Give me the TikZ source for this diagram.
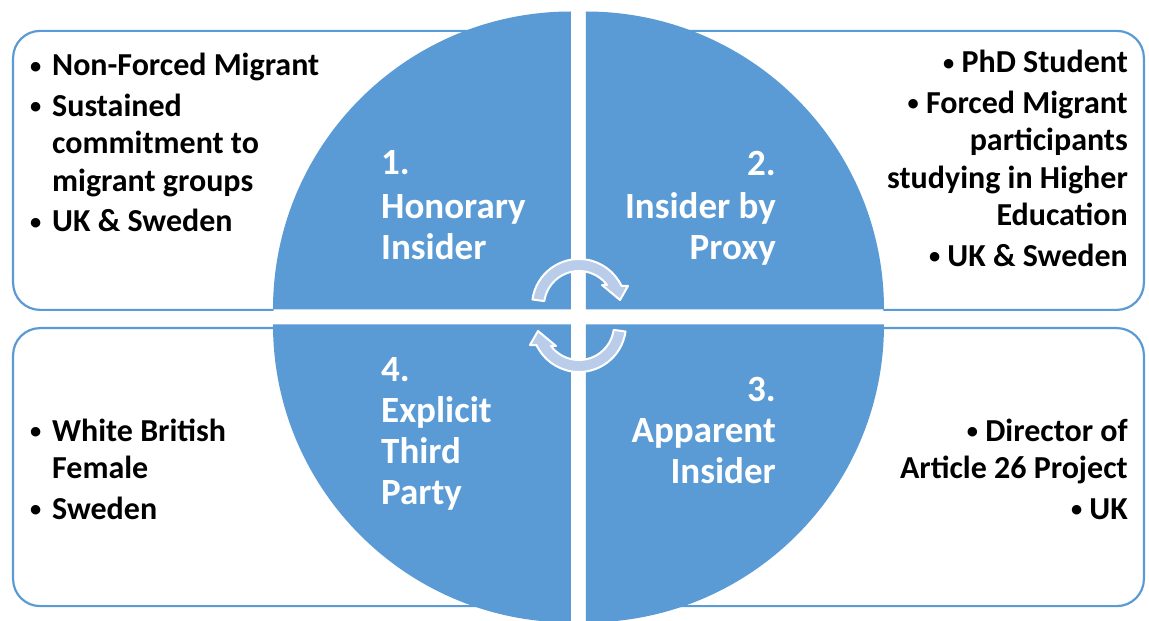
\documentclass[tikz,border=0pt]{standalone}
\usepackage{fontspec}
\setmainfont{Carlito}
\usepackage{xcolor}
\usepackage{graphicx}
\usepackage{tikz}
\usetikzlibrary{positioning, calc}

\definecolor{quadblue}{RGB}{91,155,213}
\definecolor{arrowblue}{RGB}{185,204,234}

% small bullet, and hanging indent for the side lists
\newcommand{\dotmark}{\raisebox{2.8pt}{\scalebox{0.7}{\textbullet}}}
\newcommand{\blt}{\makebox[24pt][l]{\hspace{2pt}\dotmark}}
\newcommand{\ind}{\hspace*{24pt}}

\begin{document}
\begin{tikzpicture}[
    x=1pt, y=1pt,
    infobox/.style={
        rectangle,
        rounded corners=27pt,
        draw=quadblue,
        line width=2.2pt,
        fill=white,
        inner sep=0pt
    },
    listtext/.style={
        font=\fontsize{32}{37.5}\selectfont\bfseries,
        inner sep=0pt,
        text=black
    },
    quadtext/.style={
        font=\fontsize{37}{41}\selectfont\bfseries,
        inner sep=0pt,
        text=white
    },
    quadrant/.style={fill=quadblue},
    cyclearrow/.style={fill=arrowblue, draw=white, line width=2pt, line join=round}
]

\useasboundingbox (-578.5,-304) rectangle (570.5,317);

% === SIDE BOXES ===
\node (boxTL) [infobox, anchor=south west, minimum width=536.5pt, minimum height=279pt] at (-566.5,6) {};
\node (boxTR) [infobox, anchor=south east, minimum width=536.5pt, minimum height=279pt] at (566.5,6) {};
\node (boxBL) [infobox, anchor=north west, minimum width=536.5pt, minimum height=278pt] at (-566.5,-10) {};
\node (boxBR) [infobox, anchor=north east, minimum width=536.5pt, minimum height=278pt] at (566.5,-10) {};

% === CIRCLE OF FOUR QUADRANTS ===
\fill [white] (0,0) circle [radius=305pt];
\foreach \a in {0,90,180,270}
    \fill [quadrant, rotate=\a] (7.5,7.5) -- ++(298,0) arc [start angle=0, end angle=90, radius=298pt] -- cycle;

% === CYCLE ARROWS ===
\foreach \r in {0,180}
    \filldraw [cyclearrow, shift={(0.5,1.5)}, rotate=\r]
        (0,9.5) ++(172:47pt) arc [start angle=172, end angle=25.2, radius=47pt]
        -- (49,29.5) -- (41,15.5) -- (23,30.5) -- (28,30.5)
        arc [start angle=36.9, end angle=172, radius=35pt] -- cycle;

% === QUADRANT LABELS ===
\node (honorary) [quadtext, align=left, anchor=north west] at (-197.5,166.4) {1.\\[3pt]Honorary\\Insider};
\node (proxy) [quadtext, align=right, anchor=north east] at (197.5,166.4) {2.\\[2pt]Insider by\\Proxy};
\node (apparent) [quadtext, align=right, anchor=north east] at (197.5,-59.6) {3.\\Apparent\\Insider};
\node (thirdparty) [quadtext, align=left, anchor=north west] at (-197.5,-40.6) {4.\\Explicit\\Third\\Party};

% === BOX LISTS ===
\node (listTL) [listtext, align=left, anchor=north west] at ([xshift=16pt, yshift=-23.4pt]boxTL.north west)
    {\blt Non-Forced Migrant\\[3pt]\blt Sustained\\\ind commitment to\\\ind migrant groups\\[3pt]\blt UK \& Sweden};
\node (listTR) [listtext, align=right, anchor=north east] at ([xshift=-17pt, yshift=-20.4pt]boxTR.north east)
    {\dotmark\ PhD Student\\[3pt]\dotmark\ Forced Migrant\\participants\\studying in Higher\\Education\\[3pt]\dotmark\ UK \& Sweden};
\node (listBL) [listtext, align=left, anchor=north west] at ([xshift=16pt, yshift=-91.4pt]boxBL.north west)
    {\blt White British\\\ind Female\\[3pt]\blt Sweden};
\node (listBR) [listtext, align=right, anchor=north east] at ([xshift=-17pt, yshift=-91.4pt]boxBR.north east)
    {\dotmark\ Director of\\Article 26 Project\\[3pt]\dotmark\ UK};

\end{tikzpicture}
\end{document}
